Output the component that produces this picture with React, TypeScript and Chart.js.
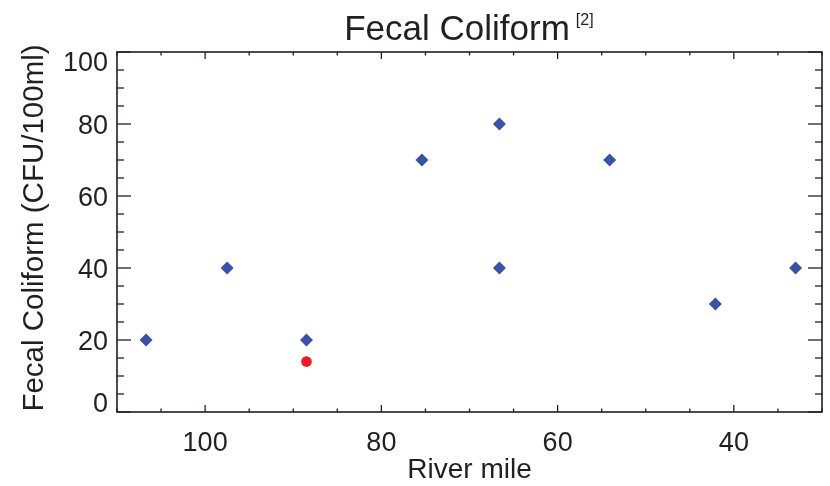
import React, { useEffect, useRef } from 'react';
import { Chart, registerables } from 'chart.js';

Chart.register(...registerables);

// ---- data ----
const riverMile = [106.7, 97.5, 88.5, 75.4, 66.6, 66.6, 54.1, 42.1, 33.0];
const fecalColiform = [20, 40, 20, 70, 80, 40, 70, 30, 40];
const otherMile = [88.5];
const otherColiform = [14];

const xMin = 30;
const xMax = 110;
const yMin = 0;
const yMax = 100;
const xMajorTicks = [100, 80, 60, 40];
const yMajorTicks = [0, 20, 40, 60, 80, 100];
const minorStep = 5;

const chartTitle = 'Fecal Coliform';
const titleNote = '[2]';
const xTitle = 'River mile';
const yTitle = 'Fecal Coliform (CFU/100ml)';

const INK = '#231f20';
const BLUE = '#3953a4';
const RED = '#ed1c24';
const FONT = '"Liberation Sans", Arial, Helvetica, sans-serif';

const idlFrame = {
  id: 'idlFrame',
  afterDraw(chart: any) {
    const { ctx, chartArea: a } = chart;
    const x = chart.scales.x;
    const y = chart.scales.y;
    const line = (x1: number, y1: number, x2: number, y2: number) => {
      ctx.beginPath();
      ctx.moveTo(x1, y1);
      ctx.lineTo(x2, y2);
      ctx.stroke();
    };
    ctx.save();
    ctx.strokeStyle = INK;
    ctx.lineWidth = 1.6;
    ctx.strokeRect(a.left, a.top, a.right - a.left, a.bottom - a.top);

    ctx.lineWidth = 1.3;
    for (let v = yMin; v <= yMax; v += minorStep) {
      const py = y.getPixelForValue(v);
      const len = yMajorTicks.includes(v) ? 14 : 7;
      line(a.left, py, a.left + len, py);
      line(a.right, py, a.right - len, py);
    }
    for (let v = xMin; v <= xMax; v += minorStep) {
      const px = x.getPixelForValue(v);
      const len = xMajorTicks.includes(v) ? 7 : 3.5;
      line(px, a.bottom, px, a.bottom - len);
      line(px, a.top, px, a.top + len);
    }

    ctx.fillStyle = INK;
    const tickSize = 27;
    const cap = tickSize * 0.716;
    ctx.font = `${tickSize}px ${FONT}`;
    ctx.textAlign = 'right';
    ctx.textBaseline = 'alphabetic';
    for (const v of yMajorTicks) {
      let cy = y.getPixelForValue(v);
      cy = Math.min(Math.max(cy, a.top + cap / 2), a.bottom - cap / 2);
      ctx.fillText(String(v), a.left - 9, cy + cap / 2);
    }
    ctx.textAlign = 'center';
    for (const v of xMajorTicks) {
      ctx.fillText(String(v), x.getPixelForValue(v), a.bottom + 39);
    }

    const cx = (a.left + a.right) / 2;
    ctx.font = `28px ${FONT}`;
    ctx.fillText(xTitle, cx, 478);

    ctx.save();
    ctx.font = `29.5px ${FONT}`;
    ctx.translate(43, 228);
    ctx.rotate(-Math.PI / 2);
    ctx.textAlign = 'center';
    ctx.fillText(yTitle, 0, 0);
    ctx.restore();

    ctx.font = `35px ${FONT}`;
    ctx.textAlign = 'center';
    ctx.fillText(chartTitle, 457, 40);
    const w = ctx.measureText(chartTitle).width;
    ctx.font = `16px ${FONT}`;
    ctx.textAlign = 'left';
    ctx.fillText(titleNote, 457 + w / 2 + 6, 25);
    ctx.restore();
  },
};

export default function App() {
  const ref = useRef<HTMLCanvasElement | null>(null);
  useEffect(() => {
    if (!ref.current) return;
    const chart = new Chart(ref.current, {
      type: 'scatter',
      data: {
        datasets: [
          {
            label: 'Fecal Coliform',
            data: riverMile.map((m, i) => ({ x: m, y: fecalColiform[i] })),
            pointStyle: 'rectRot',
            pointRadius: 6.5,
            backgroundColor: BLUE,
            borderWidth: 0,
          },
          {
            label: 'Other',
            data: otherMile.map((m, i) => ({ x: m, y: otherColiform[i] })),
            pointStyle: 'circle',
            pointRadius: 5.3,
            backgroundColor: RED,
            borderWidth: 0,
          },
        ],
      },
      options: {
        responsive: false,
        animation: false,
        devicePixelRatio: 1,
        layout: { padding: { left: 117, right: 8, top: 52, bottom: 74 } },
        plugins: { legend: { display: false }, tooltip: { enabled: false }, title: { display: false } },
        scales: {
          x: { type: 'linear', display: false, reverse: true, min: xMin, max: xMax },
          y: { type: 'linear', display: false, min: yMin, max: yMax },
        },
      },
      plugins: [idlFrame],
    });
    return () => chart.destroy();
  }, []);
  return (
    <div style={{ position: 'fixed', left: 0, top: 0, width: 830, height: 486, background: '#fff' }}>
      <canvas ref={ref} width={830} height={486} />
    </div>
  );
}
